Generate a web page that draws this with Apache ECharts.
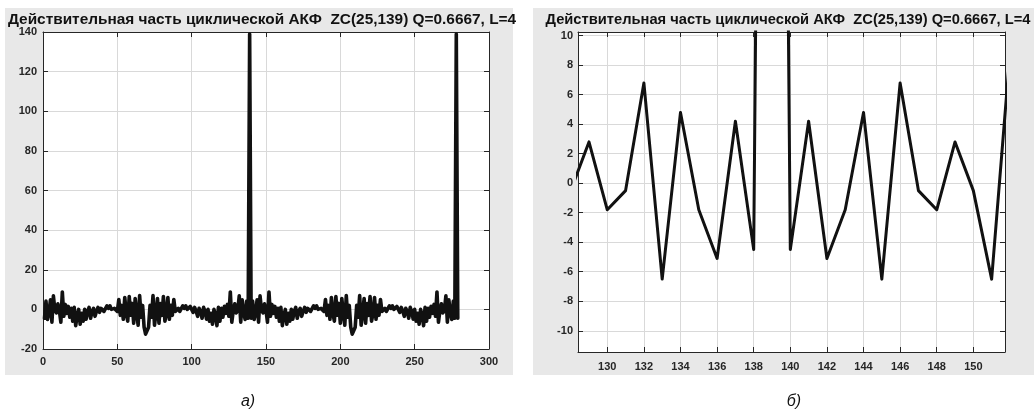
<!DOCTYPE html>
<html>
<head>
<meta charset="utf-8">
<script src="https://cdn.jsdelivr.net/npm/echarts@6/dist/echarts.min.js"></script>
<style>
  html, body { margin: 0; padding: 0; background: #ffffff; }
  #chart { width: 1034px; height: 412px; }
</style>
</head>
<body>
<div id="chart"></div>
<script>
// Real part of the cyclic ACF of ZC(25,139), Q=0.6667, L=4, lags 1..279
const acfReal = [
  -4.5, 4.2, -5.1, -1.8, 4.8, -6.5, 6.8, -0.5, -1.8, 2.8, -0.5, -6.5, 8.8,
  -3.5, 2.5, -2, 1.5, -4,
  0.5, -6, 1, -8.2, -3,
  0, -7.5, -2, -6, 0, -5,
  -1, 1, -4.5, -1, 0.5, -3.5, -1,
  1, -1.5, 0.5, 1.5, -1, 0, 1.8, 0.5, 1.8, 0, -1, 0.5, -0.5,
  -1, 5, -3, 2, -5, 6, -2, -6, 6.5, -3, 3, -7, 5.5, -2, -8, 7, -4, 2, -9, -12.5,
  -12.5, -9, 2, -4, 7, -8, -2, 5.5, -7, 3, -3, 6.5, -6, -2, 6, -5, 2, -3, 5, -1,
  -0.5, 0.5, -1, 0, 1.8, 0.5, 1.8, 0, -1, 1.5, 0.5, -1.5, 1,
  -1, -3.5, 0.5, -1, -4.5, 1, -1,
  -5, 0, -6, -2, -7.5, 0,
  -3, -8.2, 1, -6, 0.5,
  -4, 1.5, -2, 2.5, -3.5,
  8.8, -6.5, -0.5, 2.8, -1.8, -0.5, 6.8, -6.5, 4.8, -1.8, -5.1, 4.2, -4.5,
  139,
  -4.5, 4.2, -5.1, -1.8, 4.8, -6.5, 6.8, -0.5, -1.8, 2.8, -0.5, -6.5, 8.8,
  -3.5, 2.5, -2, 1.5, -4,
  0.5, -6, 1, -8.2, -3,
  0, -7.5, -2, -6, 0, -5,
  -1, 1, -4.5, -1, 0.5, -3.5, -1,
  1, -1.5, 0.5, 1.5, -1, 0, 1.8, 0.5, 1.8, 0, -1, 0.5, -0.5,
  -1, 5, -3, 2, -5, 6, -2, -6, 6.5, -3, 3, -7, 5.5, -2, -8, 7, -4, 2, -9, -12.5,
  -12.5, -9, 2, -4, 7, -8, -2, 5.5, -7, 3, -3, 6.5, -6, -2, 6, -5, 2, -3, 5, -1,
  -0.5, 0.5, -1, 0, 1.8, 0.5, 1.8, 0, -1, 1.5, 0.5, -1.5, 1,
  -1, -3.5, 0.5, -1, -4.5, 1, -1,
  -5, 0, -6, -2, -7.5, 0,
  -3, -8.2, 1, -6, 0.5,
  -4, 1.5, -2, 2.5, -3.5,
  8.8, -6.5, -0.5, 2.8, -1.8, -0.5, 6.8, -6.5, 4.8, -1.8, -5.1, 4.2, -4.5,
  139,
  -4.5
];
const firstLag = 1;

// Tick labels
const fullXTicks = [0, 50, 100, 150, 200, 250, 300];
const fullYTicks = [-20, 0, 20, 40, 60, 80, 100, 120, 140];
const zoomXTicks = [130, 132, 134, 136, 138, 140, 142, 144, 146, 148, 150];
const zoomYTicks = [-10, -8, -6, -4, -2, 0, 2, 4, 6, 8, 10];

const titleText = 'Действительная часть циклической АКФ  ZC(25,139) Q=0.6667, L=4';
const captions = ['а)', 'б)'];

const points = acfReal.map((v, i) => [firstLag + i, v]);

const FONT = '"Liberation Sans", Arial, sans-serif';
const axisColor = '#262626';
const gridColor = '#d9d9d9';

function labelStyle(extra) {
  return Object.assign({
    color: '#262626', fontFamily: FONT, fontSize: 11, fontWeight: 'bold'
  }, extra);
}

function mainAxis(gridIndex, pos, min, max, ticks, useInterval, labelMargin) {
  const a = {
    gridIndex, type: 'value', position: pos, min, max,
    axisLine: { show: true, onZero: false, lineStyle: { color: axisColor, width: 1 } },
    axisTick: { show: true, inside: true, length: 5, lineStyle: { color: axisColor } },
    axisLabel: labelStyle({ margin: labelMargin }),
    splitLine: { show: true, lineStyle: { color: gridColor, width: 1 } }
  };
  if (useInterval) {
    a.interval = ticks[1] - ticks[0];
  } else {
    a.axisTick.customValues = ticks;
    a.axisLabel.customValues = ticks;
  }
  return a;
}

function mirrorAxis(gridIndex, pos, min, max, ticks, useInterval) {
  const a = {
    gridIndex, type: 'value', position: pos, min, max,
    axisLine: { show: true, onZero: false, lineStyle: { color: axisColor, width: 1 } },
    axisTick: { show: true, inside: true, length: 5, lineStyle: { color: axisColor } },
    axisLabel: { show: false },
    splitLine: { show: false }
  };
  if (useInterval) {
    a.interval = ticks[1] - ticks[0];
  } else {
    a.axisTick.customValues = ticks;
    a.axisLabel.customValues = ticks;
  }
  return a;
}

const zoomX = [128.4, 151.73];
const zoomY = [-11.44, 10.25];

const chart = echarts.init(document.getElementById('chart'), null, { renderer: 'canvas' });

chart.setOption({
  backgroundColor: '#ffffff',
  animation: false,
  graphic: [
    { type: 'rect', z: -10, silent: true, shape: { x: 5, y: 8, width: 508, height: 367 }, style: { fill: '#e8e8e8' } },
    { type: 'rect', z: -10, silent: true, shape: { x: 533, y: 8, width: 501, height: 367 }, style: { fill: '#e8e8e8' } }
  ],
  title: [
    { text: titleText, left: 262, top: 12, textAlign: 'center', padding: 0,
      textStyle: { fontFamily: FONT, fontSize: 15.4, fontWeight: 'bold', color: '#111', lineHeight: 16 } },
    { text: titleText, left: 788, top: 12, textAlign: 'center', padding: 0,
      textStyle: { fontFamily: FONT, fontSize: 14.7, fontWeight: 'bold', color: '#111', lineHeight: 16 } },
    { text: captions[0], left: 248, top: 393, textAlign: 'center', padding: 0,
      textStyle: { fontFamily: FONT, fontSize: 16, fontStyle: 'italic', fontWeight: 'normal', color: '#111', lineHeight: 17 } },
    { text: captions[1], left: 794, top: 393, textAlign: 'center', padding: 0,
      textStyle: { fontFamily: FONT, fontSize: 16, fontStyle: 'italic', fontWeight: 'normal', color: '#111', lineHeight: 17 } }
  ],
  grid: [
    { left: 43, top: 32, width: 446, height: 317, show: true, backgroundColor: '#ffffff', borderWidth: 0 },
    { left: 578, top: 32, width: 427, height: 320, show: true, backgroundColor: '#ffffff', borderWidth: 0 }
  ],
  xAxis: [
    mainAxis(0, 'bottom', 0, 300, fullXTicks, true, 7),
    mirrorAxis(0, 'top', 0, 300, fullXTicks, true),
    mainAxis(1, 'bottom', zoomX[0], zoomX[1], zoomXTicks, false, 9),
    mirrorAxis(1, 'top', zoomX[0], zoomX[1], zoomXTicks, false)
  ],
  yAxis: [
    mainAxis(0, 'left', -20, 140, fullYTicks, true, 6),
    mirrorAxis(0, 'right', -20, 140, fullYTicks, true),
    mainAxis(1, 'left', zoomY[0], zoomY[1], zoomYTicks, false, 5),
    mirrorAxis(1, 'right', zoomY[0], zoomY[1], zoomYTicks, false)
  ],
  series: [
    { type: 'line', xAxisIndex: 0, yAxisIndex: 0, data: points, showSymbol: false, clip: true,
      lineStyle: { color: '#111111', width: 3.6, join: 'round', cap: 'round' } },
    { type: 'line', xAxisIndex: 2, yAxisIndex: 2, data: points, showSymbol: false, clip: true,
      lineStyle: { color: '#111111', width: 3, join: 'round', cap: 'round' } }
  ]
});
</script>
</body>
</html>
